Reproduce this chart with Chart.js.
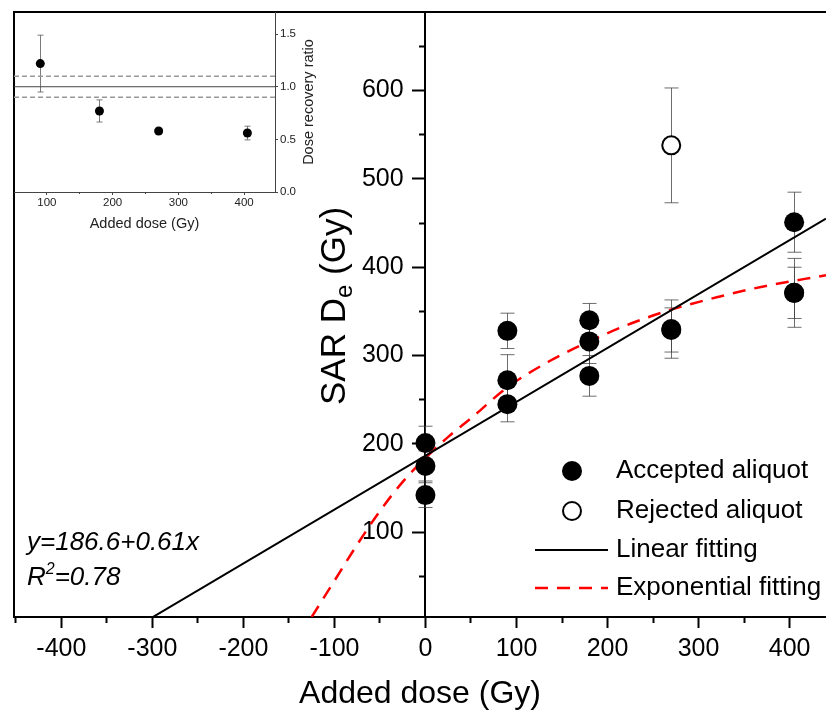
<!DOCTYPE html>
<html>
<head>
<meta charset="utf-8">
<script src="https://cdn.jsdelivr.net/npm/chart.js@4.4.0/dist/chart.umd.min.js"></script>
<style>
body { margin: 0; background: #fff; }
#wrap { position: relative; width: 826px; height: 713px; }
#main, #inset { position: absolute; left: 0; top: 0; }
</style>
</head>
<body>
<div id="wrap">
  <canvas id="main" width="826" height="713"></canvas>
  <canvas id="inset" width="330" height="240"></canvas>
</div>
<script>
// main plot: SAR De vs added dose (Gy)
var acceptedDose = [0, 0, 0, 90, 90, 90, 180, 180, 180, 270, 270, 405, 405, 405];
var acceptedDe = [201, 175, 142, 328, 272, 245, 340, 316, 277, 330, 329, 451, 371, 371];
var acceptedErr = [19, 17, 14, 20, 29, 20, 19, 25, 23, 33, 25, 34, 39, 29];
var rejectedDose = [270];
var rejectedDe = [538];
var rejectedErr = [65];
// fitted lines
var linearDose = [-300, 440];
var linearDe = [3.6, 455];
var expDose = [-125, -100, -75, -50, -25, 0, 25, 50, 90, 135, 180, 225, 270, 320, 370, 440];
var expDe = [4, 45, 86, 124, 157, 184, 208, 229, 264, 293, 316, 336, 352, 366, 378, 391];
// main axis ticks
var mainXTicks = [-400, -300, -200, -100, 0, 100, 200, 300, 400];
var mainXMinor = [-450, -350, -250, -150, -50, 50, 150, 250, 350];
var mainYTicks = [100, 200, 300, 400, 500, 600];
var mainYMinor = [50, 150, 250, 350, 450, 550, 650];

// inset: dose recovery ratio
var ratioDose = [90, 180, 270, 405];
var ratioVal = [1.22, 0.77, 0.58, 0.56];
var ratioErr = [0.27, 0.105, 0.02, 0.065];
var ratioLineDose = [50, 447];
var ratioLevels = [1.0, 1.1, 0.9];
var insetXTicks = [100, 200, 300, 400];
var insetXMinor = [150, 250, 350];
var insetYTicks = [0, 0.5, 1.0, 1.5];

Chart.defaults.font.family = "'Liberation Sans', Arial, sans-serif";
Chart.defaults.color = '#000';

function pts(xs, ys) {
    var out = [];
    for (var i = 0; i < xs.length; i++) out.push({ x: xs[i], y: ys[i] });
    return out;
}

function setTicks(list) {
    return function (s) {
        s.ticks = list.map(function (v) { return { value: v }; });
    };
}

function noPad(s) {
    s.paddingTop = 0; s.paddingBottom = 0; s.paddingLeft = 0; s.paddingRight = 0;
}

// vertical error bars with caps, drawn under the markers
var errorBars = {
    id: 'errorBars',
    beforeDatasetsDraw: function (chart) {
        var ctx = chart.ctx;
        var xs = chart.scales.x, ys = chart.scales.y;
        chart.data.datasets.forEach(function (ds) {
            if (!ds.errors) return;
            ctx.save();
            ctx.strokeStyle = ds.errColor;
            ctx.lineWidth = 1;
            ds.data.forEach(function (p, i) {
                var px = Math.round(xs.getPixelForValue(p.x)) + 0.5;
                var top = ys.getPixelForValue(p.y + ds.errors[i]);
                var bot = ys.getPixelForValue(p.y - ds.errors[i]);
                ctx.beginPath();
                ctx.moveTo(px, top); ctx.lineTo(px, bot);
                ctx.moveTo(px - ds.capHalf, top); ctx.lineTo(px + ds.capHalf, top);
                ctx.moveTo(px - ds.capHalf, bot); ctx.lineTo(px + ds.capHalf, bot);
                ctx.stroke();
            });
            ctx.restore();
        });
    }
};

var mainDecor = {
    id: 'mainDecor',
    afterDraw: function (chart) {
        var ctx = chart.ctx;
        var a = chart.chartArea;
        ctx.save();
        // frame top + left
        ctx.strokeStyle = '#000';
        ctx.lineWidth = 2;
        ctx.beginPath();
        ctx.moveTo(a.left, a.bottom);
        ctx.lineTo(a.left, a.top);
        ctx.lineTo(a.right, a.top);
        ctx.stroke();

        // y title with subscript
        ctx.translate(335, 306);
        ctx.rotate(-Math.PI / 2);
        ctx.fillStyle = '#000';
        ctx.textBaseline = 'middle';
        var big = "35px 'Liberation Sans', Arial, sans-serif";
        var small = "24px 'Liberation Sans', Arial, sans-serif";
        ctx.font = big;
        var w1 = ctx.measureText('SAR D').width;
        var w3 = ctx.measureText(' (Gy)').width;
        ctx.font = small;
        var w2 = ctx.measureText('e').width;
        var x0 = -(w1 + w2 + w3) / 2;
        ctx.font = big;
        ctx.fillText('SAR D', x0, 0);
        ctx.font = small;
        ctx.fillText('e', x0 + w1, 10);
        ctx.font = big;
        ctx.fillText(' (Gy)', x0 + w1 + w2, 0);
        ctx.restore();

        // equation
        ctx.save();
        ctx.fillStyle = '#000';
        ctx.textBaseline = 'middle';
        ctx.font = "italic 26px 'Liberation Sans', Arial, sans-serif";
        ctx.fillText('y=186.6+0.61x', 27, 543);
        ctx.fillText('R', 27, 578);
        var rw = ctx.measureText('R').width;
        ctx.font = "italic 16px 'Liberation Sans', Arial, sans-serif";
        ctx.fillText('2', 27 + rw, 570);
        var sw = ctx.measureText('2').width;
        ctx.font = "italic 26px 'Liberation Sans', Arial, sans-serif";
        ctx.fillText('=0.78', 27 + rw + sw, 578);

        // legend
        ctx.font = "26px 'Liberation Sans', Arial, sans-serif";
        ctx.beginPath();
        ctx.arc(572, 471, 10, 0, Math.PI * 2);
        ctx.fill();
        ctx.fillText('Accepted aliquot', 616, 471);
        ctx.beginPath();
        ctx.arc(572, 511, 9, 0, Math.PI * 2);
        ctx.lineWidth = 2;
        ctx.strokeStyle = '#000';
        ctx.stroke();
        ctx.fillText('Rejected aliquot', 616, 511);
        ctx.beginPath();
        ctx.moveTo(535, 550); ctx.lineTo(608, 550);
        ctx.stroke();
        ctx.fillText('Linear fitting', 616, 550);
        ctx.beginPath();
        ctx.strokeStyle = '#ff0000';
        ctx.lineWidth = 2.5;
        ctx.setLineDash([13, 9]);
        ctx.moveTo(535, 588); ctx.lineTo(608, 588);
        ctx.stroke();
        ctx.setLineDash([]);
        ctx.fillText('Exponential fitting', 616, 588);
        ctx.restore();
    }
};

new Chart(document.getElementById('main').getContext('2d'), {
    type: 'scatter',
    data: {
        datasets: [{
            label: 'Accepted aliquot',
            data: pts(acceptedDose, acceptedDe),
            errors: acceptedErr, errColor: 'rgba(60,60,60,0.75)', capHalf: 7,
            pointRadius: 10, pointBackgroundColor: '#000', pointBorderColor: '#000', pointBorderWidth: 0,
            xAxisID: 'x', yAxisID: 'y'
        }, {
            label: 'Rejected aliquot',
            data: pts(rejectedDose, rejectedDe),
            errors: rejectedErr, errColor: 'rgba(60,60,60,0.75)', capHalf: 7,
            pointRadius: 9, pointBackgroundColor: '#fff', pointBorderColor: '#000', pointBorderWidth: 2,
            xAxisID: 'x', yAxisID: 'y'
        }, {
            label: 'Linear fitting',
            data: pts(linearDose, linearDe),
            showLine: true, pointRadius: 0, borderColor: '#000', borderWidth: 2,
            xAxisID: 'x', yAxisID: 'y'
        }, {
            label: 'Exponential fitting',
            data: pts(expDose, expDe),
            showLine: true, pointRadius: 0, borderColor: '#ff0000', borderWidth: 2.5,
            borderDash: [13, 9], cubicInterpolationMode: 'monotone',
            xAxisID: 'x', yAxisID: 'y'
        }]
    },
    options: {
        responsive: false,
        animation: false,
        devicePixelRatio: 1,
        layout: { autoPadding: false, padding: { left: 14, top: 12, right: 0, bottom: 0 } },
        plugins: { legend: { display: false }, tooltip: { enabled: false } },
        scales: {
            x: {
                type: 'linear', position: 'bottom', min: -452, max: 440,
                afterBuildTicks: setTicks(mainXTicks),
                ticks: { autoSkip: false, maxRotation: 0, padding: 6, font: { size: 25 } },
                grid: { drawOnChartArea: false, tickLength: 11, tickWidth: 2, tickColor: '#000' },
                border: { color: '#000', width: 2 },
                title: { display: true, text: 'Added dose (Gy)', font: { size: 32 }, padding: 0 },
                afterFit: function (s) { s.height = 96; noPad(s); }
            },
            xMinor: {
                type: 'linear', axis: 'x', position: { y: 4 }, min: -452, max: 440,
                afterBuildTicks: setTicks(mainXMinor),
                ticks: { autoSkip: false, display: false },
                grid: { drawOnChartArea: false, tickLength: 6, tickWidth: 2, tickColor: '#000' },
                border: { display: false },
                afterFit: noPad
            },
            y: {
                type: 'linear', position: { x: 0 }, min: 4, max: 689,
                afterBuildTicks: setTicks(mainYTicks),
                ticks: { autoSkip: false, display: false },
                grid: { drawOnChartArea: false, tickLength: 12, tickWidth: 2, tickColor: '#000' },
                border: { color: '#000', width: 2 },
                afterFit: noPad
            },
            yMinor: {
                type: 'linear', axis: 'y', position: { x: 0 }, min: 4, max: 689,
                afterBuildTicks: setTicks(mainYMinor),
                ticks: { autoSkip: false, display: false },
                grid: { drawOnChartArea: false, tickLength: 6, tickWidth: 2, tickColor: '#000' },
                border: { display: false },
                afterFit: noPad
            },
            // labels of the centre y axis, set a little left of the axis line
            yLabels: {
                type: 'linear', axis: 'y', position: { x: -24 }, min: 4, max: 689,
                afterBuildTicks: setTicks(mainYTicks),
                ticks: { autoSkip: false, font: { size: 25 } },
                grid: { drawOnChartArea: false, drawTicks: false },
                border: { display: false },
                afterFit: noPad
            }
        }
    },
    plugins: [errorBars, mainDecor]
});

// inset
var insetDecor = {
    id: 'insetDecor',
    afterDraw: function (chart) {
        var ctx = chart.ctx;
        ctx.save();
        ctx.translate(309, 102);
        ctx.rotate(-Math.PI / 2);
        ctx.fillStyle = '#222';
        ctx.textAlign = 'center';
        ctx.textBaseline = 'middle';
        ctx.font = "14.5px 'Liberation Sans', Arial, sans-serif";
        ctx.fillText('Dose recovery ratio', 0, 0);
        ctx.restore();
    }
};

var insetSets = [{
    data: pts(ratioDose, ratioVal),
    errors: ratioErr, errColor: 'rgba(90,90,90,0.8)', capHalf: 3,
    pointRadius: 4.5, pointBackgroundColor: '#000', pointBorderColor: '#000', pointBorderWidth: 0,
    xAxisID: 'x', yAxisID: 'y'
}];
ratioLevels.forEach(function (lv, i) {
    insetSets.push({
        data: pts(ratioLineDose, [lv, lv]),
        showLine: true, pointRadius: 0,
        borderColor: i === 0 ? '#444' : '#999', borderWidth: i === 0 ? 1 : 1.5,
        borderDash: i === 0 ? [] : [5, 3],
        xAxisID: 'x', yAxisID: 'y'
    });
});

new Chart(document.getElementById('inset').getContext('2d'), {
    type: 'scatter',
    data: { datasets: insetSets },
    options: {
        responsive: false,
        animation: false,
        devicePixelRatio: 1,
        layout: { autoPadding: false, padding: { left: 14, top: 12, right: 0, bottom: 0 } },
        plugins: { legend: { display: false }, tooltip: { enabled: false } },
        scales: {
            x: {
                type: 'linear', position: 'bottom', min: 50, max: 447,
                afterBuildTicks: setTicks(insetXTicks),
                ticks: { autoSkip: false, maxRotation: 0, padding: 1, color: '#222', font: { size: 11.5 } },
                grid: { drawOnChartArea: false, tickLength: 3, tickColor: '#444' },
                border: { color: '#444', width: 1 },
                title: { display: true, text: 'Added dose (Gy)', color: '#222', font: { size: 14.5 }, padding: { top: 0, bottom: 7 } },
                afterFit: function (s) { s.height = 48; noPad(s); }
            },
            xMinor: {
                type: 'linear', axis: 'x', position: { y: 0 }, min: 50, max: 447,
                afterBuildTicks: setTicks(insetXMinor),
                ticks: { autoSkip: false, display: false },
                grid: { drawOnChartArea: false, tickLength: 2, tickColor: '#444' },
                border: { display: false },
                afterFit: noPad
            },
            y: {
                type: 'linear', position: 'right', min: 0, max: 1.71,
                afterBuildTicks: setTicks(insetYTicks),
                ticks: {
                    autoSkip: false, padding: 2, color: '#222', font: { size: 11.5 },
                    callback: function (v) { return v.toFixed(1); }
                },
                grid: { drawOnChartArea: false, tickLength: 3, tickColor: '#444' },
                border: { color: '#444', width: 1 },
                afterFit: function (s) { s.width = 55; noPad(s); }
            }
        }
    },
    plugins: [errorBars, insetDecor]
});
</script>
</body>
</html>
